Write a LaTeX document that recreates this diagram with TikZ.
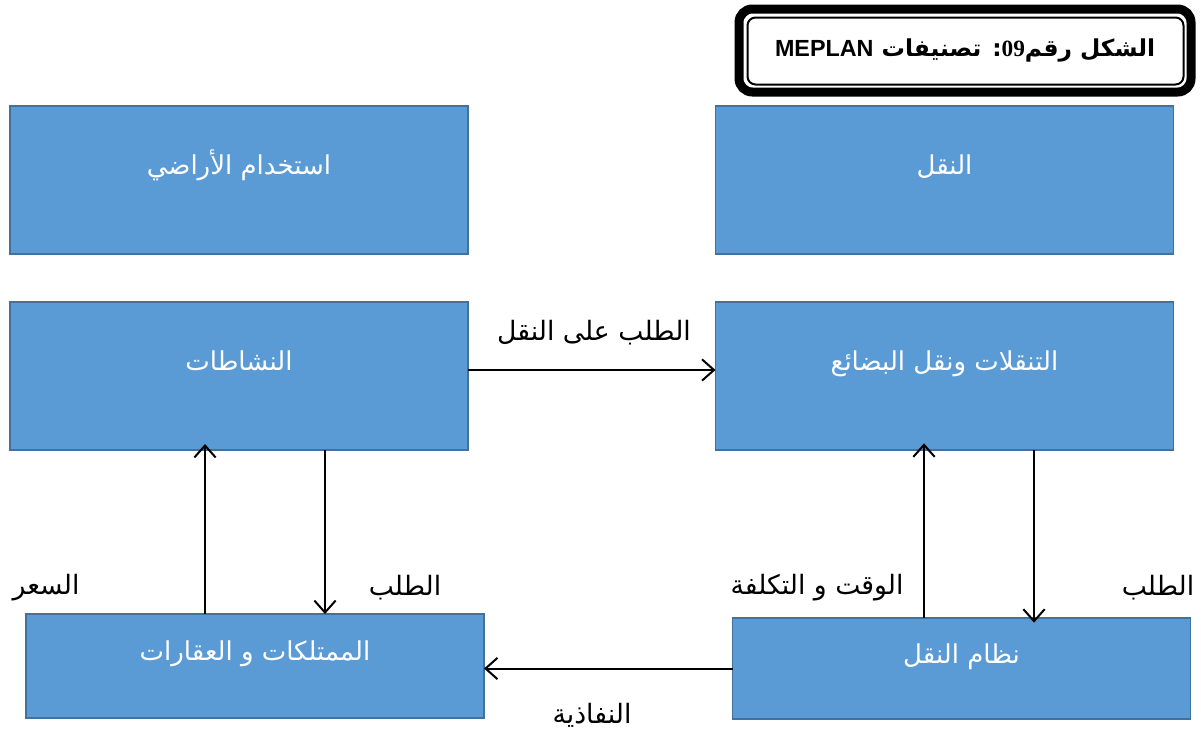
\documentclass[tikz,border=0pt]{standalone}
\usepackage{fontspec}
\TeXXeTstate=1
\newfontfamily\arabicfont[Script=Arabic]{DejaVu Sans}
\newfontfamily\latinsans{Liberation Sans}
\newfontfamily\latinserif{Liberation Serif}
\usetikzlibrary{arrows.meta,calc}

\definecolor{boxfill}{HTML}{5B9BD5}
\definecolor{boxline}{HTML}{41719C}

\tikzset{
  box/.style={draw=boxline, line width=1.2pt, fill=boxfill, text=white,
    inner sep=0pt, outer sep=0pt, minimum width=343.5pt,
    font=\arabicfont\fontsize{19.5}{22}\selectfont,
    text height=14pt, text depth=22pt},
  lbl/.style={font=\arabicfont\fontsize{20}{22}\selectfont, inner sep=0pt},
  flow/.style={line width=1.5pt, -{Straight Barb[length=9pt,width=16pt]}},
}

\begin{document}
\begin{tikzpicture}[x=0.75pt,y=-0.75pt]
  \useasboundingbox (0,0) rectangle (1201,736);

  % title frame
  \node[draw, line width=6.75pt, rounded corners=10pt, minimum width=339pt,
    minimum height=62.25pt, inner sep=0pt,
    font=\arabicfont\bfseries\fontsize{17.5}{20}\selectfont] (title) at (965,50.5)
    {\beginR الشكل رقم{\latinserif\bfseries\beginL09\endL}: تصنيفات {\latinsans\bfseries\beginL MEPLAN\endL}\endR};
  \draw[line width=1.5pt, rounded corners=6pt]
    ($(title.south west)+(13,-12)$) rectangle ($(title.north east)+(-12,13)$);

  % boxes
  \node[box, minimum height=111pt] (land) at (239,180) {\beginR استخدام الأراضي\endR};
  \node[box, minimum height=111pt] (trans) at (944.5,180) {\beginR النقل\endR};
  \node[box, minimum height=111pt] (act) at (239,376) {\beginR النشاطات\endR};
  \node[box, minimum height=111pt] (mov) at (944.5,376) {\beginR التنقلات ونقل البضائع\endR};
  \node[box, minimum height=78pt] (prop) at (255,666) {\beginR الممتلكات و العقارات\endR};
  \node[box, minimum height=75.75pt] (sys) at (961.5,668.5) {\beginR نظام النقل\endR};

  % connectors
  \coordinate (h1) at ($(act.east)+(0,-6)$);
  \coordinate (d1) at ($(act.south)+(86,0)$);
  \coordinate (u1) at ($(prop.north)+(-50,0)$);
  \coordinate (d2) at ($(mov.south)+(89.5,0)$);
  \coordinate (u2) at ($(sys.north)+(-37.5,0)$);

  \draw[flow] (h1) -- (h1 -| mov.west);
  \draw[flow] (sys.west) -- (sys.west -| prop.east);
  \draw[flow] (d1) -- (d1 |- prop.north);
  \draw[flow, shorten >=-4.5pt] (u1) -- (u1 |- act.south);
  \draw[flow, shorten >=-3.5pt] (d2) -- (d2 |- sys.north);
  \draw[flow, shorten >=-5pt] (u2) -- (u2 |- mov.south);

  % labels
  \node[lbl] (ldemand) at (594,333) {\beginR الطلب على النقل\endR};
  \node[lbl] (lreq1) at (405,588) {\beginR الطلب\endR};
  \node[lbl] (lprice) at (46,588) {\beginR السعر\endR};
  \node[lbl] (lcost) at (817,588) {\beginR الوقت و التكلفة\endR};
  \node[lbl] (lreq2) at (1158,588) {\beginR الطلب\endR};
  \node[lbl] (lacc) at (592,715) {\beginR النفاذية\endR};
\end{tikzpicture}
\end{document}
